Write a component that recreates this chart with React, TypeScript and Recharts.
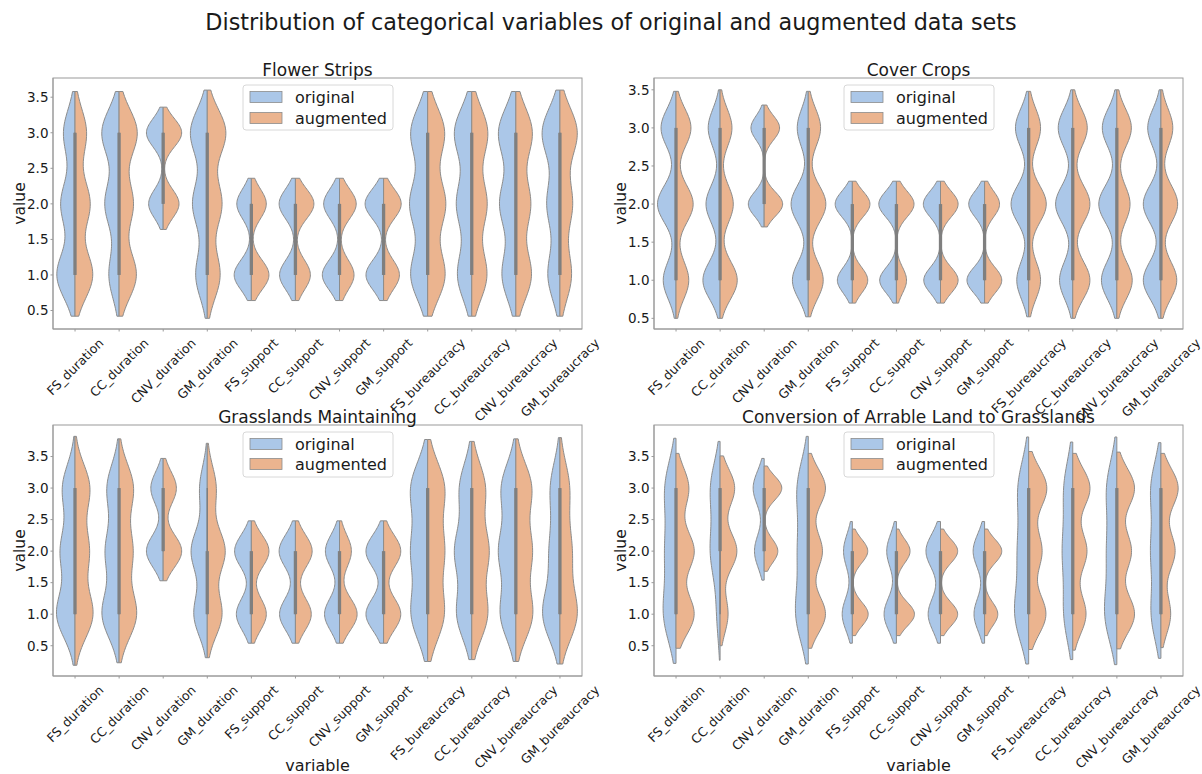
import React from 'react';
import { ComposedChart, Bar, XAxis, YAxis } from 'recharts';

const variables = [
  'FS_duration', 'CC_duration', 'CNV_duration', 'GM_duration',
  'FS_support', 'CC_support', 'CNV_support', 'GM_support',
  'FS_bureaucracy', 'CC_bureaucracy', 'CNV_bureaucracy', 'GM_bureaucracy',
];
const yTicks = [0.5, 1, 1.5, 2, 2.5, 3, 3.5];
const answerValues = [1, 2, 3];
const seriesNames = ['original', 'augmented'];

// one row per violin half: [low end, high end, kde bandwidth, density at 1, at 2, at 3]
// densities are half widths as a share of the category width
const flowerOriginal = [
  [0.42, 3.58, 0.33, 0.41, 0.32, 0.26],
  [0.42, 3.58, 0.33, 0.23, 0.32, 0.39],
  [1.64, 3.36, 0.2, 0, 0.33, 0.38],
  [0.39, 3.6, 0.33, 0.26, 0.33, 0.38],
  [0.64, 2.36, 0.21, 0.39, 0.33, 0],
  [0.64, 2.36, 0.21, 0.36, 0.37, 0],
  [0.64, 2.36, 0.21, 0.39, 0.36, 0],
  [0.64, 2.36, 0.21, 0.4, 0.42, 0],
  [0.42, 3.58, 0.35, 0.38, 0.4, 0.38],
  [0.42, 3.58, 0.35, 0.32, 0.34, 0.39],
  [0.42, 3.58, 0.35, 0.31, 0.36, 0.39],
  [0.42, 3.6, 0.35, 0.27, 0.29, 0.4],
];
const flowerAugmented = [
  [0.42, 3.58, 0.33, 0.4, 0.34, 0.26],
  [0.42, 3.58, 0.33, 0.39, 0.32, 0.41],
  [1.64, 3.36, 0.2, 0, 0.36, 0.42],
  [0.39, 3.6, 0.33, 0.29, 0.33, 0.42],
  [0.64, 2.36, 0.21, 0.4, 0.34, 0],
  [0.64, 2.36, 0.21, 0.34, 0.42, 0],
  [0.64, 2.36, 0.21, 0.33, 0.38, 0],
  [0.64, 2.36, 0.21, 0.36, 0.4, 0],
  [0.42, 3.58, 0.35, 0.39, 0.4, 0.38],
  [0.42, 3.58, 0.35, 0.34, 0.34, 0.36],
  [0.42, 3.58, 0.35, 0.35, 0.33, 0.37],
  [0.42, 3.6, 0.35, 0.26, 0.28, 0.39],
];
// [whisker low, q1, q3, whisker high]
const flowerBox = [
  [1, 1, 3, 3], [1, 1, 3, 3], [2, 2, 3, 3], [1, 1, 3, 3],
  [1, 1, 2, 2], [1, 1, 2, 2], [1, 1, 2, 2], [1, 1, 2, 2],
  [1, 1, 3, 3], [1, 1, 3, 3], [1, 1, 3, 3], [1, 1, 3, 3],
];

const coverOriginal = [
  [0.5, 3.48, 0.25, 0.29, 0.42, 0.34],
  [0.5, 3.5, 0.25, 0.39, 0.32, 0.27],
  [1.7, 3.3, 0.16, 0, 0.36, 0.3],
  [0.52, 3.48, 0.25, 0.36, 0.39, 0.25],
  [0.7, 2.3, 0.17, 0.34, 0.39, 0],
  [0.7, 2.3, 0.17, 0.38, 0.4, 0],
  [0.7, 2.3, 0.17, 0.38, 0.39, 0],
  [0.7, 2.3, 0.17, 0.4, 0.36, 0],
  [0.52, 3.48, 0.25, 0.27, 0.4, 0.3],
  [0.5, 3.5, 0.25, 0.3, 0.39, 0.33],
  [0.5, 3.5, 0.25, 0.35, 0.41, 0.33],
  [0.5, 3.5, 0.25, 0.4, 0.4, 0.3],
];
const coverAugmented = [
  [0.5, 3.48, 0.25, 0.29, 0.39, 0.34],
  [0.5, 3.5, 0.25, 0.39, 0.3, 0.27],
  [1.7, 3.3, 0.16, 0, 0.42, 0.35],
  [0.52, 3.48, 0.25, 0.34, 0.4, 0.28],
  [0.7, 2.3, 0.17, 0.35, 0.4, 0],
  [0.7, 2.3, 0.17, 0.23, 0.4, 0],
  [0.7, 2.3, 0.17, 0.4, 0.4, 0],
  [0.7, 2.3, 0.17, 0.39, 0.34, 0],
  [0.52, 3.48, 0.25, 0.27, 0.4, 0.27],
  [0.5, 3.5, 0.25, 0.39, 0.39, 0.33],
  [0.5, 3.5, 0.25, 0.35, 0.3, 0.33],
  [0.5, 3.5, 0.25, 0.36, 0.38, 0.27],
];
const coverBox = [
  [1, 1, 3, 3], [1, 1, 3, 3], [2, 2, 3, 3], [1, 1, 3, 3],
  [1, 1, 2, 2], [1, 1, 2, 2], [1, 1, 2, 2], [1, 1, 2, 2],
  [1, 1, 3, 3], [1, 1, 3, 3], [1, 1, 3, 3], [1, 1, 3, 3],
];

const grassOriginal = [
  [0.19, 3.82, 0.38, 0.41, 0.32, 0.28],
  [0.23, 3.78, 0.38, 0.38, 0.3, 0.27],
  [1.53, 3.47, 0.26, 0, 0.38, 0.28],
  [0.31, 3.71, 0.35, 0.3, 0.36, 0.17],
  [0.54, 2.48, 0.26, 0.34, 0.38, 0],
  [0.54, 2.48, 0.26, 0.36, 0.37, 0],
  [0.54, 2.48, 0.26, 0.34, 0.32, 0],
  [0.54, 2.48, 0.26, 0.4, 0.4, 0],
  [0.25, 3.77, 0.42, 0.36, 0.35, 0.37],
  [0.28, 3.74, 0.4, 0.33, 0.37, 0.27],
  [0.25, 3.78, 0.4, 0.34, 0.37, 0.32],
  [0.21, 3.8, 0.42, 0.38, 0.22, 0.21],
];
const grassAugmented = [
  [0.19, 3.82, 0.38, 0.4, 0.31, 0.33],
  [0.23, 3.78, 0.38, 0.39, 0.3, 0.32],
  [1.53, 3.47, 0.26, 0, 0.42, 0.3],
  [0.31, 3.71, 0.35, 0.33, 0.4, 0.2],
  [0.54, 2.48, 0.26, 0.34, 0.4, 0],
  [0.54, 2.48, 0.26, 0.36, 0.38, 0],
  [0.54, 2.48, 0.26, 0.4, 0.27, 0],
  [0.54, 2.48, 0.26, 0.39, 0.39, 0],
  [0.25, 3.77, 0.42, 0.36, 0.35, 0.37],
  [0.28, 3.74, 0.4, 0.35, 0.37, 0.3],
  [0.25, 3.78, 0.4, 0.37, 0.35, 0.35],
  [0.21, 3.8, 0.42, 0.38, 0.25, 0.21],
];
const grassBox = [
  [1, 1, 3, 3], [1, 1, 3, 3], [2, 2, 3, 3], [1, 1, 2, 3],
  [1, 1, 2, 2], [1, 1, 2, 2], [1, 1, 2, 2], [1, 1, 2, 2],
  [1, 1, 3, 3], [1, 1, 3, 3], [1, 1, 3, 3], [1, 1, 3, 3],
];

const convOriginal = [
  [0.22, 3.79, 0.45, 0.27, 0.22, 0.24],
  [0.27, 3.74, 0.42, 0.07, 0.21, 0.21],
  [1.54, 3.47, 0.27, 0, 0.22, 0.25],
  [0.21, 3.82, 0.45, 0.27, 0.21, 0.24],
  [0.54, 2.47, 0.27, 0.23, 0.2, 0],
  [0.54, 2.47, 0.27, 0.28, 0.22, 0],
  [0.54, 2.47, 0.27, 0.28, 0.33, 0],
  [0.54, 2.47, 0.27, 0.24, 0.26, 0],
  [0.21, 3.81, 0.45, 0.3, 0.22, 0.23],
  [0.28, 3.73, 0.45, 0.19, 0.21, 0.19],
  [0.2, 3.81, 0.45, 0.26, 0.2, 0.22],
  [0.3, 3.72, 0.43, 0.21, 0.21, 0.22],
];
const convAugmented = [
  [0.46, 3.55, 0.32, 0.41, 0.41, 0.29],
  [0.5, 3.51, 0.3, 0.18, 0.38, 0.33],
  [1.68, 3.35, 0.19, 0, 0.31, 0.4],
  [0.46, 3.55, 0.3, 0.39, 0.32, 0.39],
  [0.66, 2.35, 0.19, 0.36, 0.35, 0],
  [0.66, 2.35, 0.19, 0.41, 0.31, 0],
  [0.66, 2.35, 0.19, 0.39, 0.39, 0],
  [0.66, 2.35, 0.19, 0.3, 0.39, 0],
  [0.44, 3.58, 0.32, 0.39, 0.3, 0.41],
  [0.43, 3.55, 0.31, 0.3, 0.32, 0.39],
  [0.45, 3.57, 0.31, 0.4, 0.33, 0.4],
  [0.47, 3.55, 0.31, 0.22, 0.32, 0.39],
];
const convBox = [
  [1, 1, 3, 3], [1, 2, 3, 3], [2, 2, 3, 3], [1, 1, 3, 3],
  [1, 1, 2, 2], [1, 1, 2, 2], [1, 1, 2, 2], [1, 1, 2, 2],
  [1, 1, 3, 3], [1, 1, 3, 3], [1, 1, 3, 3], [1, 1, 3, 3],
];

const BLUE = '#abc7e8';
const ORANGE = '#ebb48f';
const EDGE = '#8c8c8c';
const SPINE = '#9a9a9a';
const TEXT = '#1a1a1a';
const FONT = 'DejaVu Sans';
const X_TICK_FONT = 12.5;
const Y_TICK_FONT = 13.5;

const panels = [
  { title: 'Flower Strips', original: flowerOriginal, augmented: flowerAugmented, box: flowerBox, domain: [0.24, 3.77], rect: [53, 78, 582, 329], bottom: false },
  { title: 'Cover Crops', original: coverOriginal, augmented: coverAugmented, box: coverBox, domain: [0.36, 3.655], rect: [654, 78, 1183, 329], bottom: false },
  { title: 'Grasslands Maintaining', original: grassOriginal, augmented: grassAugmented, box: grassBox, domain: [0.02, 4.0], rect: [53, 425, 582, 676], bottom: true },
  { title: 'Conversion of Arrable Land to Grasslands', original: convOriginal, augmented: convAugmented, box: convBox, domain: [0.02, 4.0], rect: [654, 425, 1183, 676], bottom: true },
];

let measureCtx: CanvasRenderingContext2D | null = null;
const textWidth = (s: string) => {
  if (!measureCtx && typeof document !== 'undefined') {
    measureCtx = document.createElement('canvas').getContext('2d');
  }
  if (!measureCtx) return s.length * X_TICK_FONT * 0.6;
  measureCtx.font = `${X_TICK_FONT}px "${FONT}"`;
  return measureCtx.measureText(s).width;
};

// matplotlib style: rotated 45 deg, centred under the tick, top of the box at the pad
const RotatedTick = (props: any) => {
  const { x, y, payload } = props;
  const c = Math.SQRT1_2;
  const cy = y + (c * (textWidth(payload.value) + X_TICK_FONT * 1.16)) / 2;
  return (
    <text
      x={x}
      y={cy}
      textAnchor="middle"
      dominantBaseline="central"
      transform={`rotate(-45 ${x} ${cy})`}
      fontSize={X_TICK_FONT}
      fontFamily={FONT}
      fill={TEXT}
    >
      {payload.value}
    </text>
  );
};

const ViolinShape = (props: any) => {
  const { x, y, width, height, payload } = props;
  const [lo, hi] = payload.span;
  const top = Math.min(y, y + height);
  const ppu = Math.abs(height) / (hi - lo);
  const toY = (v: number) => top + (hi - v) * ppu;
  const cx = x + width / 2;

  const halfPath = (half: number[], side: number) => {
    const [a, b, bw, ...dens] = half;
    const n = 90;
    let d = `M${cx},${toY(a)}`;
    for (let i = 0; i <= n; i++) {
      const v = a + ((b - a) * i) / n;
      let w = 0;
      dens.forEach((dk, k) => {
        w += dk * Math.exp(-0.5 * ((v - answerValues[k]) / bw) ** 2);
      });
      d += ` L${cx + side * w * width},${toY(v)}`;
    }
    return `${d} L${cx},${toY(b)} Z`;
  };

  const [wLo, q1, q3, wHi] = payload.box;
  return (
    <g>
      <path d={halfPath(payload.original, -1)} fill={BLUE} stroke={EDGE} strokeWidth={1} />
      <path d={halfPath(payload.augmented, 1)} fill={ORANGE} stroke={EDGE} strokeWidth={1} />
      <line x1={cx} x2={cx} y1={toY(wLo)} y2={toY(wHi)} stroke="#7c7c7c" strokeWidth={1.3} />
      <line x1={cx} x2={cx} y1={toY(q1)} y2={toY(q3)} stroke="#7f7f7f" strokeWidth={3.3} />
    </g>
  );
};

const Panel = ({ panel }: { panel: (typeof panels)[number] }) => {
  const [L, T, R, B] = panel.rect;
  const yW = 60;
  const xH = 110;
  const mTop = 10;
  const mRight = 30;
  const rows = variables.map((v, i) => {
    const o = panel.original[i];
    const a = panel.augmented[i];
    return {
      variable: v,
      span: [Math.min(o[0], a[0]), Math.max(o[1], a[1])],
      original: o,
      augmented: a,
      box: panel.box[i],
    };
  });
  return (
    <div style={{ position: 'absolute', left: L - yW, top: T - mTop }}>
      <ComposedChart
        width={R - L + yW + mRight}
        height={B - T + mTop + xH}
        data={rows}
        margin={{ top: mTop, right: mRight, bottom: 0, left: 0 }}
        barCategoryGap={0}
        style={{ overflow: 'visible' }}
      >
        <XAxis
          dataKey="variable"
          type="category"
          interval={0}
          height={xH}
          tickSize={2.5}
          tickMargin={4}
          tick={<RotatedTick />}
          axisLine={{ stroke: SPINE }}
          tickLine={{ stroke: SPINE }}
        />
        <YAxis
          type="number"
          domain={panel.domain}
          ticks={yTicks}
          allowDataOverflow
          width={yW}
          tickSize={2.5}
          tickMargin={2}
          tickFormatter={(v: number) => v.toFixed(1)}
          tick={{ fontSize: Y_TICK_FONT, fontFamily: FONT, fill: TEXT }}
          axisLine={{ stroke: SPINE }}
          tickLine={{ stroke: SPINE }}
        />
        <Bar dataKey="span" shape={<ViolinShape />} isAnimationActive={false} />
      </ComposedChart>
    </div>
  );
};

const LegendBox = ({ left, top, gap }: { left: number; top: number; gap: number }) => (
  <g>
    <rect x={left} y={top} width={150} height={45} rx={3} fill="#fff" fillOpacity={0.85} stroke="#d8d8d8" />
    {seriesNames.map((name, i) => {
      const cy = top + 12 + i * gap;
      return (
        <g key={name}>
          <rect x={left + 7} y={cy - 5.5} width={32} height={11} fill={i === 0 ? BLUE : ORANGE} stroke={EDGE} strokeWidth={0.8} />
          <text x={left + 52} y={cy + 5.5} fontSize={16} fontFamily={FONT} fill={TEXT}>
            {name}
          </text>
        </g>
      );
    })}
  </g>
);

export default function App() {
  return (
    <div style={{ position: 'absolute', left: 0, top: 0, width: 1202, height: 774, overflow: 'hidden', background: '#fff' }}>
      {panels.map((p) => (
        <Panel key={p.title} panel={p} />
      ))}
      <svg width={1202} height={774} style={{ position: 'absolute', left: 0, top: 0, pointerEvents: 'none' }}>
        <text x={611} y={30} textAnchor="middle" fontSize={22.3} fontFamily={FONT} fill={TEXT}>
          Distribution of categorical variables of original and augmented data sets
        </text>
        {panels.map((p) => {
          const [L, T, R, B] = p.rect;
          const midX = (L + R) / 2;
          const midY = (T + B) / 2;
          const lx = L - 28;
          return (
            <g key={p.title}>
              <rect x={L} y={T} width={R - L} height={B - T} fill="none" stroke={SPINE} strokeWidth={1} />
              <text x={midX} y={T - 2} textAnchor="middle" fontSize={17} fontFamily={FONT} fill={TEXT}>
                {p.title}
              </text>
              <text x={lx} y={midY} textAnchor="middle" fontSize={15.5} fontFamily={FONT} fill={TEXT} transform={`rotate(-90 ${lx} ${midY})`}>
                value
              </text>
              {p.bottom && (
                <text x={midX} y={771} textAnchor="middle" fontSize={16} fontFamily={FONT} fill={TEXT}>
                  variable
                </text>
              )}
              <LegendBox left={L + 190} top={T + 7} gap={p.bottom ? 20 : 21} />
            </g>
          );
        })}
      </svg>
    </div>
  );
}
